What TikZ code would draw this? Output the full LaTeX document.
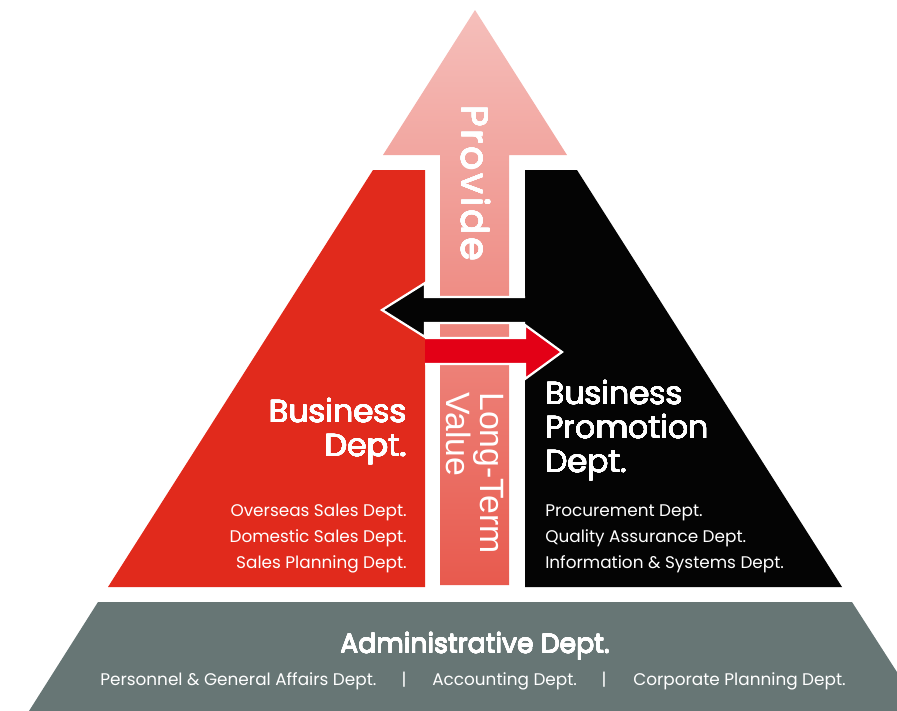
\documentclass[tikz,border=0pt]{standalone}
\usepackage{fontspec}
\usepackage{contour}
\setmainfont{Poppins}
\newfontfamily\providefont[LetterSpace=8]{Poppins}
\newfontfamily\valuefont{Liberation Sans}
\usetikzlibrary{positioning}
\contourlength{0.2pt}
\newcommand\heavy[1]{\contour{white}{#1}}
\definecolor{bizred}{HTML}{E12A1C}
\definecolor{promoblack}{HTML}{040404}
\definecolor{admingray}{HTML}{677675}
\definecolor{arrowred}{HTML}{E30016}
\definecolor{pinktop}{HTML}{F5BFBB}
\definecolor{pinkbottom}{HTML}{E85A4E}
% the whole pyramid is cut from one triangle, apex at (475,10)
\def\bizpart{(373,170) -- (425,170) -- (425,587) -- (108,587) -- cycle}
\def\promopart{(525,170) -- (577,170) -- (842,587) -- (525,587) -- cycle}
\def\adminpart{(98,602) -- (852,602) -- (922,711) -- (29,711) -- cycle}

\begin{document}
\begin{tikzpicture}[
    x=0.025cm, y=-0.025cm,
    deptname/.style={text=white, inner sep=0pt, font=\fontsize{22.6}{24.2}\selectfont},
    deptlist/.style={text=white, inner sep=0pt, font=\fontsize{12}{18.5}\selectfont},
    exchange/.style={draw=white, line width=1.6pt, line join=miter}
  ]
  \clip (0,0) rectangle (897,711);
  \fill[admingray] \adminpart;
  \fill[bizred] \bizpart;
  \fill[promoblack] \promopart;
  % long-term value arrow
  \shade[top color=pinktop, bottom color=pinkbottom]
    (475,10) -- (567,155) -- (509,155) -- (509,585) -- (440,585)
    -- (440,155) -- (383,155) -- cycle;
  \filldraw[promoblack, exchange] (525,297) -- (425,297) -- (425,283)
    -- (382,310) -- (425,337) -- (425,323) -- (525,323);
  \filldraw[arrowred, exchange] (425,338) -- (525,338) -- (525,325)
    -- (562,352) -- (525,379) -- (525,364) -- (425,364);

  \node[text=white, inner sep=0pt, rotate=-90, anchor=south west,
    font=\fontsize{26.5}{30}\providefont] (provide) at (461,105) {\heavy{Provide}};
  \node[text=white, inner sep=0pt, rotate=-90, anchor=north west, align=left,
    font=\fontsize{24}{24.5}\valuefont] (value) at (504,392) {Long-Term\\Value};

  \node[deptname, anchor=north east, align=right] (biz) at (407,398)
    {\heavy{Business}\\\heavy{Dept.}};
  \node[deptlist, anchor=north east, align=right] (bizlist) at (407,504)
    {Overseas Sales Dept.\\Domestic Sales Dept.\\Sales Planning Dept.};
  \node[deptname, anchor=north west, align=left] (promo) at (545,380)
    {\heavy{Business}\\\heavy{Promotion}\\\heavy{Dept.}};
  \node[deptlist, anchor=north west, align=left] (promolist) at (545,504)
    {Procurement Dept.\\Quality Assurance Dept.\\Information \& Systems Dept.};

  \node[text=white, inner sep=0pt, anchor=base, font=\fontsize{19}{24}\selectfont]
    (admin) at (475,653) {\heavy{Administrative Dept.}};
  \node[deptlist, anchor=base west] (personnel) at (100,685) {Personnel \& General Affairs Dept.};
  \node[deptlist, anchor=base] (bar1) at (404,685) {|};
  \node[deptlist, anchor=base west] (accounting) at (432,685) {Accounting Dept.};
  \node[deptlist, anchor=base] (bar2) at (604,685) {|};
  \node[deptlist, anchor=base west] (planning) at (633,685) {Corporate Planning Dept.};
\end{tikzpicture}
\end{document}
